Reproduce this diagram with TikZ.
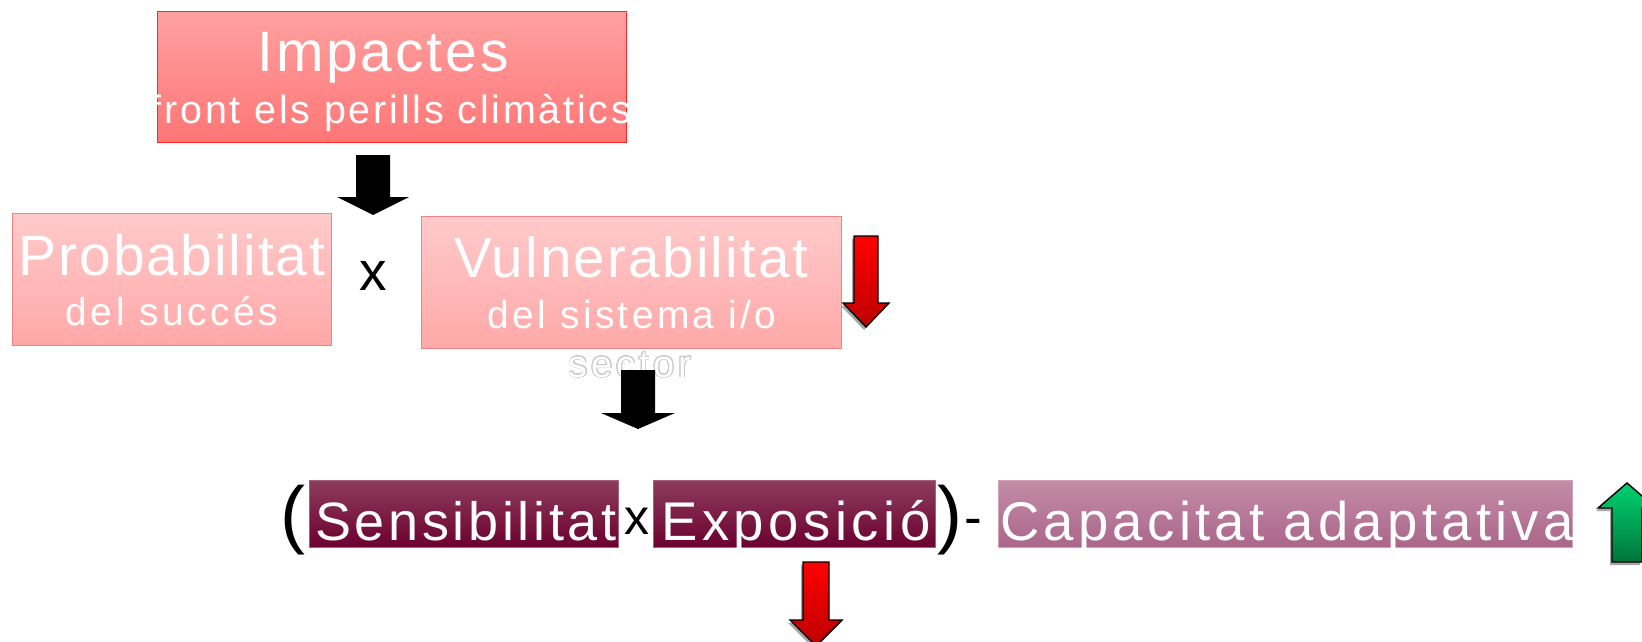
\documentclass[tikz,border=0pt]{standalone}
\usepackage{fontspec}
\usepackage{contour}
\contourlength{0.7pt}
\newfontfamily\lsans{Liberation Sans}
\definecolor{impTop}{RGB}{255,160,160}
\definecolor{impBot}{RGB}{255,118,118}
\definecolor{impLine}{RGB}{255,40,40}
\definecolor{lightTop}{RGB}{255,202,202}
\definecolor{lightBot}{RGB}{255,168,168}
\definecolor{lightLine}{RGB}{240,130,130}
\definecolor{darkTop}{RGB}{140,60,92}
\definecolor{darkBot}{RGB}{108,0,48}
\definecolor{capTop}{RGB}{196,140,168}
\definecolor{capBot}{RGB}{170,102,138}
\definecolor{redTop}{RGB}{255,0,0}
\definecolor{redBot}{RGB}{190,0,0}
\definecolor{greenTop}{RGB}{0,210,110}
\definecolor{greenBot}{RGB}{0,118,58}
\newcommand\txt[3]{\lsans\fontsize{#1}{#1}\selectfont\addfontfeatures{LetterSpace=#2}#3}
\newcommand\blockarr[7]{\path[#1] (#2-#6,#3) -- (#2+#6,#3) -- (#2+#6,#4) -- (#2+#7,#4) -- (#2,#5) -- (#2-#7,#4) -- (#2-#6,#4) -- cycle;}
\tikzset{
  box/.style={rectangle, inner sep=0pt, outer sep=0pt, line width=1pt},
  impbox/.style={box, draw=impLine, top color=impTop, bottom color=impBot},
  lightbox/.style={box, draw=lightLine, top color=lightTop, bottom color=lightBot},
  darkbox/.style={box, draw=darkTop!80!white, line width=0.6pt, top color=darkTop, bottom color=darkBot},
  capbox/.style={box, draw=capTop!80!white, line width=0.6pt, top color=capTop, bottom color=capBot},
  lbl/.style={inner sep=0pt, outer sep=0pt, anchor=base, text=white},
  sym/.style={inner sep=0pt, outer sep=0pt, anchor=base, text=black},
  blackarr/.style={fill=black},
  shadowarr/.style={fill=black!35, shift={(-2,3)}},
  redarr/.style={draw=black, line width=1.4pt, line join=miter, top color=redTop, bottom color=redBot},
  greenarr/.style={draw=black, line width=1.4pt, line join=miter, top color=greenTop, bottom color=greenBot}
}
\begin{document}
\begin{tikzpicture}[x=1pt,y=-1pt]
\useasboundingbox (0,0) rectangle (1642,642);
\clip (0,0) rectangle (1642,642);
% boxes
\node[impbox, minimum width=469pt, minimum height=130.5pt] (imp) at (391.5,76.75) {};
\node[lightbox, minimum width=319pt, minimum height=132pt] (prob) at (171.5,279) {};
\node[lightbox, minimum width=420pt, minimum height=132pt] (vuln) at (631,282) {};
\node[darkbox, minimum width=309pt, minimum height=67pt] (sens) at (463.5,514) {};
\node[darkbox, minimum width=282pt, minimum height=67pt] (expo) at (794,514) {};
\node[capbox, minimum width=574pt, minimum height=67pt] (cap) at (1285,514) {};
% texts
\node[lbl] (impT) at (383,72) {\txt{57}{5}{Impactes}};
\node[lbl] (impS) at (391,123) {\txt{39.5}{7}{front els perills climàtics}};
\node[lbl] (probT) at (172,275) {\txt{57}{3.5}{Probabilitat}};
\node[lbl] (probS) at (172,325) {\txt{39}{9}{del succés}};
\node[lbl] (vulnT) at (631,277) {\txt{56.5}{4}{Vulnerabilitat}};
\node[lbl] (vulnS) at (632,328) {\txt{39}{8.5}{del sistema i/o}};
\node[lbl] (vulnS2) at (630,377) {\txt{38}{10}{\contour{black!22}{sector}}};
\node[lbl] (sensT) at (466,540) {\txt{54}{6.8}{Sensibilitat}};
\node[lbl] (expoT) at (796,540) {\txt{54.5}{8.2}{Exposició}};
\node[lbl] (capT) at (1287,540) {\txt{54.5}{7.8}{Capacitat adaptativa}};
% symbols
\node[sym] (x1) at (373,290) {\txt{55}{0}{x}};
\node[sym] (x2) at (637,534) {\txt{50}{0}{x}};
\node[sym] (lp) at (293,539) {\txt{75}{0}{(}};
\node[sym] (rp) at (950,539) {\txt{75}{0}{)}};
\node[sym] (minus) at (973,535) {\txt{53}{0}{-}};
% arrows
\blockarr{blackarr}{373}{155}{197}{215}{17}{36}
\blockarr{blackarr}{638}{370}{413}{429}{17}{37}
\blockarr{shadowarr}{866}{236}{303}{327}{12}{23}
\blockarr{redarr}{866}{236}{303}{327}{12}{23}
\blockarr{shadowarr}{816}{562}{620}{646}{13}{26}
\blockarr{redarr}{816}{562}{620}{646}{13}{26}
\blockarr{shadowarr}{1627}{562}{508}{483}{15}{29}
\blockarr{greenarr}{1627}{562}{508}{483}{15}{29}
\end{tikzpicture}
\end{document}
